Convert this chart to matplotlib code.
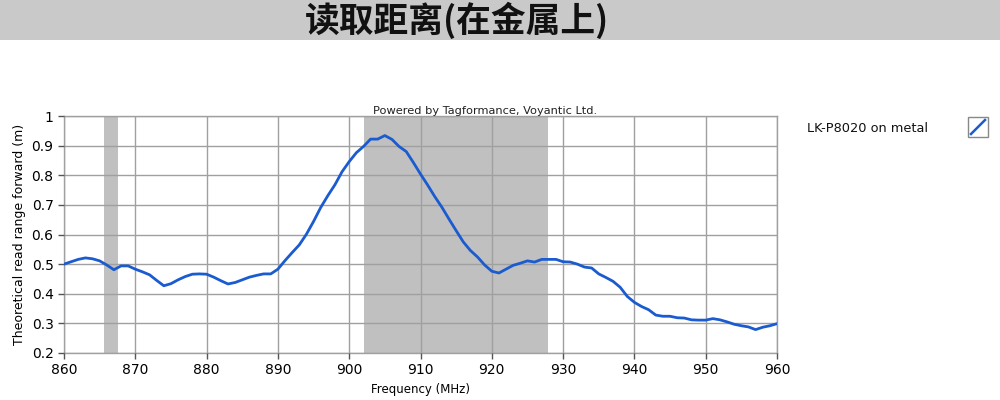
import matplotlib
matplotlib.use("Agg")
import matplotlib.pyplot as plt
from matplotlib.patches import Rectangle
from matplotlib.lines import Line2D

title = "读取距离(在金属上)"
series_name = "LK-P8020 on metal"
freq = list(range(860, 961))
read_range = [
    0.500, 0.508, 0.516, 0.521, 0.518, 0.511, 0.497, 0.481, 0.494, 0.494,  # 860-869
    0.483, 0.474, 0.464, 0.445, 0.427, 0.434, 0.447, 0.458, 0.466, 0.467,  # 870-879
    0.466, 0.456, 0.444, 0.433, 0.438, 0.447, 0.456, 0.462, 0.467, 0.467,  # 880-889
    0.483, 0.512, 0.539, 0.565, 0.601, 0.644, 0.691, 0.731, 0.768, 0.812,  # 890-899
    0.846, 0.876, 0.897, 0.922, 0.922, 0.934, 0.921, 0.897, 0.880, 0.843,  # 900-909
    0.804, 0.767, 0.728, 0.692, 0.652, 0.613, 0.575, 0.546, 0.524, 0.497,  # 910-919
    0.476, 0.470, 0.483, 0.496, 0.503, 0.511, 0.507, 0.516, 0.516, 0.516,  # 920-929
    0.508, 0.507, 0.500, 0.490, 0.487, 0.467, 0.455, 0.442, 0.422, 0.391,  # 930-939
    0.371, 0.357, 0.346, 0.328, 0.324, 0.324, 0.319, 0.318, 0.312, 0.311,  # 940-949
    0.311, 0.316, 0.312, 0.305, 0.297, 0.292, 0.288, 0.279, 0.287, 0.292,  # 950-959
    0.299,                                                                  # 960
]
bands = [(865.6, 867.6), (902.1, 927.9)]
x_ticks = [860, 870, 880, 890, 900, 910, 920, 930, 940, 950, 960]
y_ticks = [0.2, 0.3, 0.4, 0.5, 0.6, 0.7, 0.8, 0.9, 1.0]
y_tick_labels = ["0.2", "0.3", "0.4", "0.5", "0.6", "0.7", "0.8", "0.9", "1"]

line_color = "#1b5bd0"
grid_color = "#a0a0a0"

fig = plt.figure(figsize=(10, 4), dpi=100)
fig.patch.set_facecolor("white")

# Title band
fig.patches.append(Rectangle((0, 0.9), 1, 0.1, transform=fig.transFigure,
                             facecolor="#c9c9c9", edgecolor="none", zorder=0))
fig.text(0.457, 0.949, title, ha="center", va="center", fontsize=25,
         fontweight="bold", family=["Noto Sans CJK SC", "DejaVu Sans"], color="#111111")

ax = fig.add_axes([0.064, 0.1175, 0.713, 0.5925])
for x0, x1 in bands:
    ax.axvspan(x0, x1, color="#c0c0c0", lw=0, zorder=1)
ax.plot(freq, read_range, color=line_color, lw=2.0, zorder=3)

ax.set_xlim(860, 960)
ax.set_ylim(0.2, 1.0)
ax.set_xticks(x_ticks)
ax.set_yticks(y_ticks)
ax.set_yticklabels(y_tick_labels)
ax.grid(True, color=grid_color, lw=1.0, zorder=2)
ax.set_axisbelow(False)
for s in ax.spines.values():
    s.set_color(grid_color)
    s.set_linewidth(1.0)
ax.tick_params(axis="both", colors="#555555", labelcolor="black", labelsize=10,
               length=4, width=1)
ax.set_xlabel("Frequency (MHz)", fontsize=8.5, labelpad=4)
ax.set_ylabel("Theoretical read range forward (m)", fontsize=9, labelpad=4)
ax.text(0.59, 1.0, "Powered by Tagformance, Voyantic Ltd.", transform=ax.transAxes,
        ha="center", va="bottom", fontsize=8.2, color="#222222")

# Legend
fig.text(0.807, 0.68, series_name, ha="left", va="center", fontsize=9.3, color="#111111")
fig.patches.append(Rectangle((0.968, 0.658), 0.02, 0.05, transform=fig.transFigure,
                             facecolor="white", edgecolor="#888888", lw=1))
fig.lines.append(Line2D([0.971, 0.985], [0.665, 0.70], transform=fig.transFigure,
                        color=line_color, lw=1.8))

fig.savefig("out.png", dpi=100)
